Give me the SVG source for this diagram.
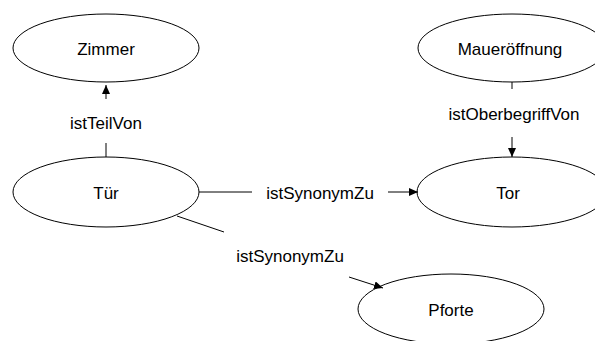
<svg xmlns="http://www.w3.org/2000/svg" width="595" height="341" viewBox="0 0 595 341">
<defs>
<style>
.node ellipse{fill:#fff;stroke:#000;stroke-width:1}
text{font-family:"Liberation Sans",Arial,sans-serif;font-size:17px;fill:#000;text-anchor:middle}
.edge line{stroke:#000;stroke-width:1}
</style>
<marker id="arr" markerWidth="10" markerHeight="8" refX="9" refY="4" orient="auto" markerUnits="userSpaceOnUse">
<path d="M0,0 L9,4 L0,8 Z" fill="#000"/>
</marker>
</defs>
<rect width="595" height="341" fill="#fff"/>
<g id="zimmer" class="node"><ellipse cx="106" cy="48" rx="93" ry="34"/><text x="106" y="55">Zimmer</text></g>
<g id="tuer" class="node"><ellipse cx="106" cy="192" rx="93" ry="35"/><text x="106" y="199">Tür</text></g>
<g id="maueroeffnung" class="node"><ellipse cx="512" cy="48" rx="94" ry="34"/><text x="510" y="55">Maueröffnung</text></g>
<g id="tor" class="node"><ellipse cx="512" cy="192" rx="95" ry="35"/><text x="508" y="199">Tor</text></g>
<g id="pforte" class="node"><ellipse cx="451" cy="309" rx="93" ry="35"/><text x="451" y="316">Pforte</text></g>
<g id="connectors" class="edge">
<line x1="106" y1="157" x2="106" y2="143"/>
<line x1="106" y1="99" x2="106" y2="85" marker-end="url(#arr)"/>
<text x="106" y="129">istTeilVon</text>
<line x1="199" y1="192" x2="252" y2="192"/>
<line x1="388" y1="192" x2="418" y2="192" marker-end="url(#arr)"/>
<text x="320" y="199">istSynonymZu</text>
<line x1="512" y1="82" x2="512" y2="89"/>
<line x1="512" y1="137" x2="512" y2="157" marker-end="url(#arr)"/>
<text x="514" y="120">istOberbegriffVon</text>
<line x1="177" y1="216" x2="224" y2="232"/>
<line x1="349" y1="277" x2="383" y2="288" marker-end="url(#arr)"/>
<text x="290" y="262">istSynonymZu</text>
</g>
</svg>
